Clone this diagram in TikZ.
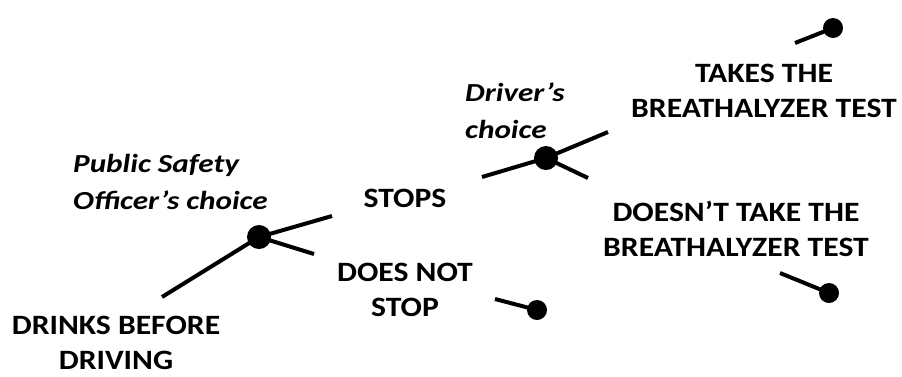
\documentclass[tikz,border=0pt]{standalone}
\usepackage{fontspec}
\setmainfont{Carlito}
\newfontfamily\lblfont{Carlito}[FakeStretch=1.13]
\newfontfamily\whofont{Carlito}[FakeStretch=1.2]
\begin{document}
\begin{tikzpicture}[x=1pt,y=-1pt,
  lbl/.style={font=\lblfont\bfseries\fontsize{28}{35}\selectfont, align=center, inner sep=0pt},
  who/.style={font=\whofont\bfseries\itshape\fontsize{26}{37}\selectfont, align=left, inner sep=0pt},
  br/.style={line width=4pt},
  bigdot/.style={circle, fill=black, inner sep=0pt, minimum size=24pt},
  enddot/.style={circle, fill=black, inner sep=0pt, minimum size=20pt}]
\useasboundingbox (0,0) rectangle (902,376);
% decision nodes
\node[bigdot] (n1) at (259,237) {};
\node[bigdot] (n2) at (546,158) {};
\node[enddot] (e1) at (833,28) {};
\node[enddot] (e2) at (537,310) {};
\node[enddot] (e3) at (829,293) {};
% free ends
\coordinate (s0) at (162,297);
\coordinate (a1) at (332,216);
\coordinate (a2) at (314,254);
\coordinate (b0) at (482,177);
\coordinate (b1) at (608,132);
\coordinate (b2) at (588,178);
\coordinate (c1) at (795,43);
\coordinate (c2) at (495,299);
\coordinate (c3) at (780,273);
% branches
\draw[br] (s0) -- (n1.center);
\draw[br] (n1.center) -- (a1);
\draw[br] (n1.center) -- (a2);
\draw[br] (b0) -- (n2.center);
\draw[br] (n2.center) -- (b1);
\draw[br] (n2.center) -- (b2);
\draw[br] (c1) -- (e1.center);
\draw[br] (c2) -- (e2.center);
\draw[br] (c3) -- (e3.center);
% labels
\node[who, anchor=west] (pso) at (73,182) {Public Safety\\Officer’s choice};
\node[who, anchor=west] (drv) at (465,111) {Driver’s\\choice};
\node[lbl] (drinks) at (116,343) {DRINKS BEFORE\\DRIVING};
\node[lbl] (stops) at (405,198) {STOPS};
\node[lbl] (dns) at (405,290) {DOES NOT\\STOP};
\node[lbl] (takes) at (764,91) {TAKES THE\\BREATHALYZER TEST};
\node[lbl] (dont) at (736,229) {DOESN’T TAKE THE\\BREATHALYZER TEST};
\end{tikzpicture}
\end{document}
